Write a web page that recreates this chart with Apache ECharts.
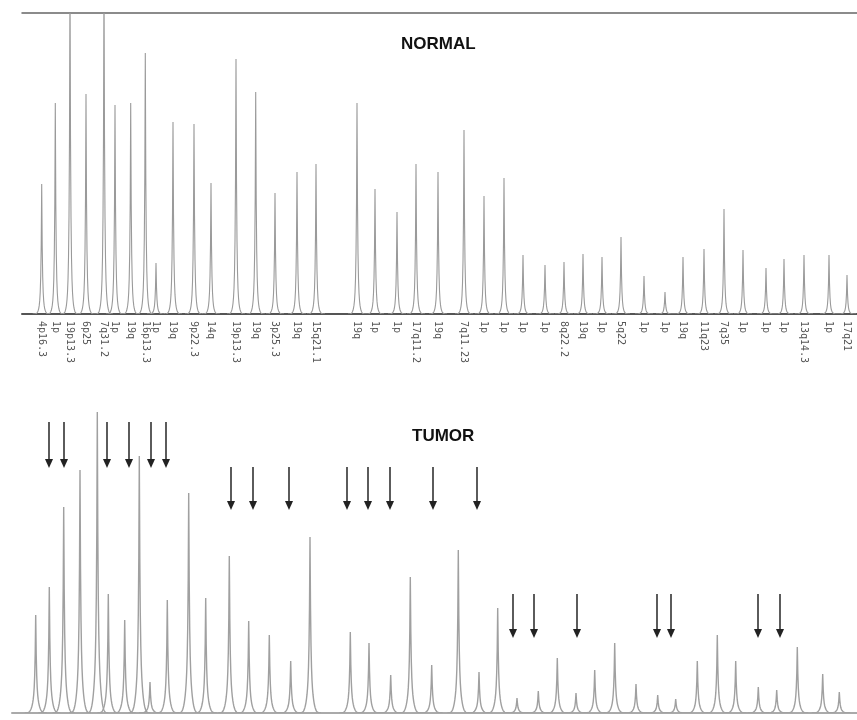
<!DOCTYPE html>
<html><head><meta charset="utf-8">
<script src="https://cdn.jsdelivr.net/npm/echarts@6/dist/echarts.min.js"></script>
<style>html,body{margin:0;padding:0;background:#fff}#c{width:857px;height:720px}</style>
</head><body><div id="c"></div>
<script>
// ---- data (x in fragment-position units, heights in signal units) ----
const normalLabels = ['4p16.3','1p','19p13.3','6p25','7q31.2','1p','19q','16p13.3','1p','19q','9p22.3','14q','19p13.3','19q','3p25.3','19q','15q21.1',
  '19q','1p','1p','17q11.2','19q','7q11.23','1p','1p','1p','1p','8q22.2',
  '19q','1p','5q22','1p','1p','19q','11q23','7q35','1p','1p','1p','13q14.3','1p','17q21'];
const normalPos = [29.7,43.3,58,74,92,103,118.7,133.3,144,161,182,199,224,243.7,263,285,304,
  345,363,385,404,426,452,472,492,511,533,552,571,590,609,632,653,671,692,712,731,754,772,792,817,835];
const normalHeights = [130,211,340,220,340,209,211,261,51,192,190,131,255,222,121,142,150,
  211,125,102,150,142,184,118,136,59,49,52,60,57,77,38,22,57,65,105,64,46,55,59,59,39];
const tumorPos = [23.7,37.3,51.7,68,85.3,96.3,112.7,127.3,138,155.3,176.7,193.7,217.3,236.7,257.3,278.7,298,338.3,357,378.7,398.3,
  419.7,446.3,467,485.7,505,526.3,545.3,564,582.7,602.7,624,645.7,663.7,685.3,705.3,723.7,746.3,764.7,785.3,810.7,827.3];
const tumorHeights = [98,126,206,243,301,119,93,257,31,113,220,115,157,92,78,52,176,81,70,38,136,
  48,163,41,105,15,22,55,20,43,70,29,18,14,52,78,52,26,23,66,39,21];
const arrowPos = [37,52,95,117,139,154, 219,241,277,335,356,378,421,465, 501,522,565,645,659,746,768];
const arrowTip = [245,245,245,245,245,245, 203,203,203,203,203,203,203,203, 75,75,75,75,75,75,75];
const arrowTail = [291,291,291,291,291,291, 246,246,246,246,246,246,246,246, 119,119,119,119,119,119,119];
const yMax = 301;

const labelMap = {};
normalPos.forEach((p, i) => { labelMap[p.toFixed(1)] = normalLabels[i]; });

function peakRenderer(s, broadFrac, broadW, R, color, lw) {
  return function (params, api) {
    const x = api.value(0), h = api.value(1);
    const b = api.coord([x, 0]);
    const t = api.coord([x, h]);
    const H = b[1] - t[1];
    const pts = [];
    const endV = (1 - broadFrac) * Math.exp(-R / s) + broadFrac * Math.exp(-(R / broadW) * (R / broadW));
    for (let d = -R; d <= R + 1e-6; d += 0.5) {
      const a = Math.abs(d);
      let v = (1 - broadFrac) * Math.exp(-a / s) + broadFrac * Math.exp(-(a / broadW) * (a / broadW));
      v = (v - endV) / (1 - endV);
      pts.push([b[0] + d, b[1] - H * v]);
    }
    return { type: 'polyline', shape: { points: pts }, style: { stroke: color, lineWidth: lw, fill: null } };
  };
}

const chart = echarts.init(document.getElementById('c'), null, { renderer: 'canvas' });
chart.setOption({
  animation: false,
  backgroundColor: '#ffffff',
  title: [
    { text: 'NORMAL', left: 401, top: 36, padding: 0,
      textStyle: { fontSize: 17, fontWeight: 'bold', fontFamily: 'Liberation Sans, Arial, sans-serif', color: '#111' } },
    { text: 'TUMOR', left: 412, top: 428, padding: 0,
      textStyle: { fontSize: 17, fontWeight: 'bold', fontFamily: 'Liberation Sans, Arial, sans-serif', color: '#111' } }
  ],
  grid: [
    { left: 22, right: 0, top: 13, height: 301 },
    { left: 12, right: 0, top: 412, height: 301 }
  ],
  xAxis: [
    { type: 'value', gridIndex: 0, min: 10, max: 845, splitLine: { show: false },
      axisLine: { show: true, onZero: false, lineStyle: { color: '#555', width: 2 } },
      axisTick: { show: false },
      axisLabel: {
        customValues: normalPos, rotate: -90, margin: 7, fontSize: 10,
        fontFamily: 'DejaVu Sans Mono, monospace', color: '#555',
        formatter: function (v) { return labelMap[Number(v).toFixed(1)] || ''; }
      } },
    { type: 'value', gridIndex: 0, position: 'top', min: 10, max: 845, splitLine: { show: false },
      axisLine: { show: true, onZero: false, lineStyle: { color: '#666', width: 1.5 } },
      axisTick: { show: false }, axisLabel: { show: false } },
    { type: 'value', gridIndex: 1, min: 0, max: 845, splitLine: { show: false },
      axisLine: { show: true, onZero: false, lineStyle: { color: '#aaa', width: 2 } },
      axisTick: { show: false }, axisLabel: { show: false } }
  ],
  yAxis: [
    { type: 'value', gridIndex: 0, min: 0, max: yMax, show: false },
    { type: 'value', gridIndex: 1, min: 0, max: yMax, show: false }
  ],
  series: [
    { type: 'custom', xAxisIndex: 0, yAxisIndex: 0, clip: true,
      renderItem: peakRenderer(0.7, 0.07, 3.2, 9, '#9a9a9a', 1.1),
      data: normalPos.map((p, i) => [p, normalHeights[i]]) },
    { type: 'custom', xAxisIndex: 2, yAxisIndex: 1, clip: true,
      renderItem: peakRenderer(0.8, 0.15, 4, 11, '#a0a0a0', 1.4),
      data: tumorPos.map((p, i) => [p, tumorHeights[i]]) },
    { type: 'custom', xAxisIndex: 2, yAxisIndex: 1,
      renderItem: function (params, api) {
        const x = api.value(0);
        const tip = api.coord([x, api.value(1)]);
        const tail = api.coord([x, api.value(2)]);
        const hh = 9, hw = 4;
        return { type: 'group', children: [
          { type: 'line', shape: { x1: tail[0], y1: tail[1], x2: tip[0], y2: tip[1] - hh + 1 },
            style: { stroke: '#333', lineWidth: 1.6 } },
          { type: 'polygon', shape: { points: [[tip[0] - hw, tip[1] - hh], [tip[0] + hw, tip[1] - hh], [tip[0], tip[1]]] },
            style: { fill: '#222', stroke: null } }
        ] };
      },
      data: arrowPos.map((p, i) => [p, arrowTip[i], arrowTail[i]]) }
  ]
});
</script></body></html>
